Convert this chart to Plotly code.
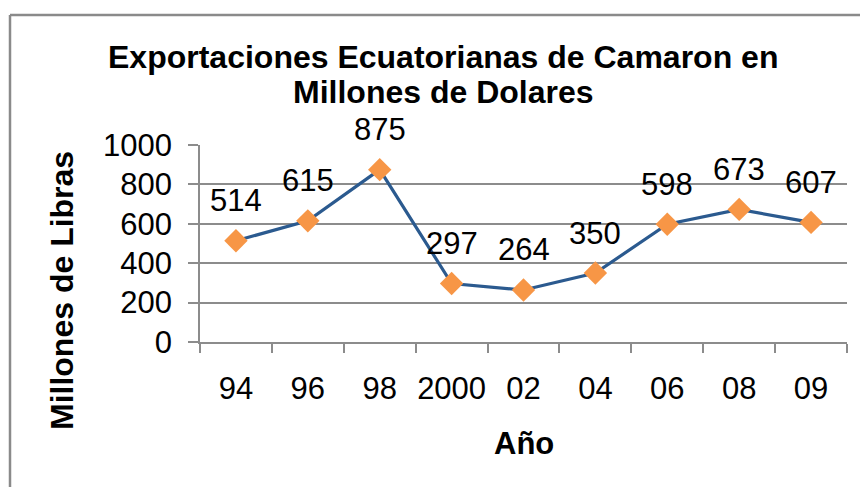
import plotly.graph_objects as go

years = ["94", "96", "98", "2000", "02", "04", "06", "08", "09"]
values = [514, 615, 875, 297, 264, 350, 598, 673, 607]
y_ticks = [0, 200, 400, 600, 800, 1000]

title_lines = ["Exportaciones Ecuatorianas de Camaron en", "Millones de Dolares"]
x_title = "Año"
y_title = "Millones de Libras"

FONT = "Liberation Sans, Arial, sans-serif"
GRID = "#8c8c8c"
W, H = 860, 487
L, R, T, B = 200, 13, 145, 145
pw, ph = W - L - R, H - T - B

def px_to_paper_x(px):
    return (px - L) / pw

def px_to_paper_y(py):
    return (H - B - py) / ph

fig = go.Figure()
fig.add_trace(go.Scatter(
    x=years, y=values, mode="lines+markers",
    line=dict(color="#2B5A8F", width=3.2),
    marker=dict(symbol="diamond", size=18, color="#F79646",
                line=dict(width=0)),
    cliponaxis=False, hoverinfo="skip",
))

annotations = []
for i, v in enumerate(values):
    annotations.append(dict(
        x=i, y=v, xref="x", yref="y", text=str(v), showarrow=False,
        xanchor="center", yanchor="middle",
        yshift=40, font=dict(family=FONT, size=31, color="#000000"),
    ))

for line, cy in zip(title_lines, [57, 92]):
    annotations.append(dict(
        x=px_to_paper_x(443), y=px_to_paper_y(cy), xref="paper", yref="paper",
        text="<b>" + line + "</b>", showarrow=False,
        xanchor="center", yanchor="middle",
        font=dict(family=FONT, size=32, color="#000000"),
    ))

annotations.append(dict(
    x=0.5, y=px_to_paper_y(443), xref="paper", yref="paper",
    text="<b>" + x_title + "</b>", showarrow=False,
    xanchor="center", yanchor="middle",
    font=dict(family=FONT, size=31, color="#000000"),
))
annotations.append(dict(
    x=px_to_paper_x(62), y=px_to_paper_y(291), xref="paper", yref="paper",
    text="<b>" + y_title + "</b>", showarrow=False, textangle=-90,
    xanchor="center", yanchor="middle",
    font=dict(family=FONT, size=32, color="#000000"),
))

shapes = [
    dict(type="line", xref="paper", yref="paper",
         x0=px_to_paper_x(10), x1=px_to_paper_x(W + 10),
         y0=px_to_paper_y(15), y1=px_to_paper_y(15),
         line=dict(color="#8a8a8a", width=2.5)),
    dict(type="line", xref="paper", yref="paper",
         x0=px_to_paper_x(10), x1=px_to_paper_x(10),
         y0=px_to_paper_y(15), y1=px_to_paper_y(H + 10),
         line=dict(color="#8a8a8a", width=2.5)),
]

fig.update_layout(
    width=W, height=H,
    margin=dict(l=L, r=R, t=T, b=B),
    paper_bgcolor="white", plot_bgcolor="white",
    showlegend=False,
    annotations=annotations,
    shapes=shapes,
)

fig.update_xaxes(
    type="category", categoryorder="array", categoryarray=years,
    range=[-0.5, len(years) - 0.5], automargin=False,
    tickson="boundaries", ticks="outside", ticklen=9, tickangle=0,
    tickwidth=1.5, tickcolor=GRID, showline=True, linecolor=GRID, linewidth=1.5,
    showgrid=False, ticklabelstandoff=18,
    tickfont=dict(family=FONT, size=31, color="#000000"),
)
fig.update_yaxes(
    range=[0, 1000], tickvals=y_ticks, ticks="outside", ticklen=10,
    automargin=False,
    tickwidth=1.5, tickcolor=GRID, showline=True, linecolor=GRID, linewidth=1.5,
    showgrid=True, gridcolor=GRID, gridwidth=1.5, zeroline=False,
    ticklabelstandoff=10,
    tickfont=dict(family=FONT, size=31, color="#000000"),
)

fig.write_html(
    "out.html",
    config={"displayModeBar": False},
    post_script="document.body.style.margin='0px';document.body.style.padding='0px';",
)
